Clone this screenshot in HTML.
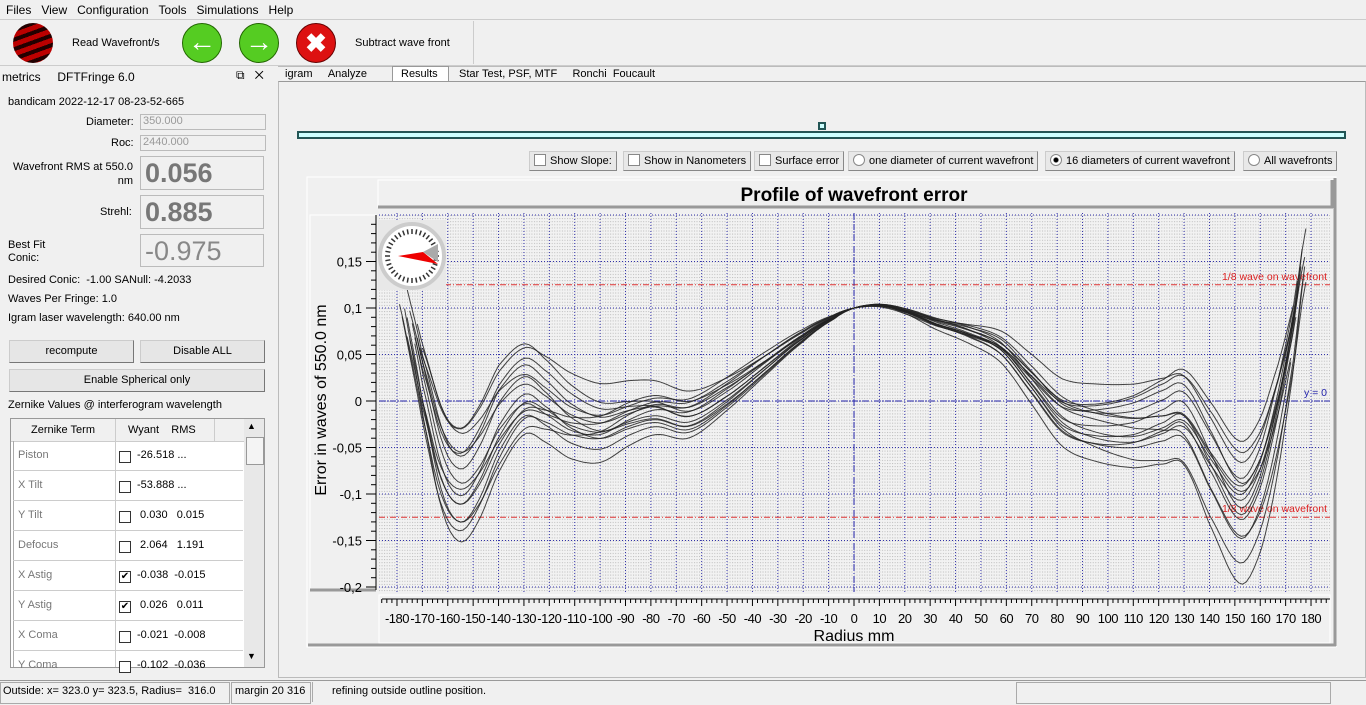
<!DOCTYPE html>
<html><head><meta charset="utf-8"><style>
body{margin:0;width:1366px;height:705px;background:#f0f0f0;font-family:"Liberation Sans",sans-serif;font-size:12px;color:#000;position:relative;overflow:hidden}
.a{position:absolute;white-space:nowrap}
.fld{position:absolute;border:1px solid #bbb;background:#f0f0f0;color:#999}
.big{position:absolute;border:1px solid #bbb;color:#777;font-weight:bold;font-size:27px;padding-left:4px;line-height:32px}
.btn{position:absolute;background:#e6e6e6;border:1px solid #ccc;border-right-color:#777;border-bottom-color:#777;text-align:center;line-height:21px}
.cb{position:absolute;background:#e8e8e8;border:1px solid #ccc;border-right-color:#888;border-bottom-color:#888;font-size:11px;line-height:18px;height:18px;padding:0 4px}
.cb i{display:inline-block;width:10px;height:10px;border:1px solid #888;background:#fff;vertical-align:-2px;margin-right:4px}
.cb i.r{border-radius:6px}
</style></head><body>
<div class="a" style="left:6px;top:3px">Files&nbsp;&nbsp;&nbsp;View&nbsp;&nbsp;&nbsp;Configuration&nbsp;&nbsp;&nbsp;Tools&nbsp;&nbsp;&nbsp;Simulations&nbsp;&nbsp;&nbsp;Help</div>
<div class="a" style="left:0;top:19px;width:1366px;height:1px;background:#ccc"></div>
<div class="a" style="left:13px;top:23px;width:40px;height:40px;border-radius:50%;background:repeating-linear-gradient(160deg,#b00 0 5px,#200 5px 9px)"></div>
<div class="a" style="left:72px;top:37px;font-size:11px">Read Wavefront/s</div>
<div class="a" style="left:182px;top:23px;width:38px;height:38px;border-radius:50%;background:#5c2;border:1px solid #260;color:#fff;font-size:28px;line-height:36px;text-align:center;font-weight:bold">&#8592;</div>
<div class="a" style="left:239px;top:23px;width:38px;height:38px;border-radius:50%;background:#5c2;border:1px solid #260;color:#fff;font-size:28px;line-height:36px;text-align:center;font-weight:bold">&#8594;</div>
<div class="a" style="left:296px;top:23px;width:38px;height:38px;border-radius:50%;background:#d11;border:1px solid #600;color:#fff;font-size:26px;line-height:38px;text-align:center;font-weight:bold">&#10006;</div>
<div class="a" style="left:355px;top:37px;font-size:11px">Subtract wave front</div>
<div class="a" style="left:473px;top:21px;width:1px;height:43px;background:#ccc"></div>
<div class="a" style="left:0;top:65px;width:1366px;height:1px;background:#ccc"></div>
<div class="a" style="left:2px;top:70px">metrics&nbsp;&nbsp;&nbsp;&nbsp;&nbsp;DFTFringe 6.0</div>
<div class="a" style="left:236px;top:68px">&#10697;&nbsp;&nbsp;&nbsp;&#10005;</div>
<div class="a" style="left:8px;top:96px;font-size:11px">bandicam 2022-12-17 08-23-52-665</div>
<div class="a" style="left:86px;top:116px;font-size:11px">Diameter:</div><div class="fld" style="left:140px;top:114px;width:122px;height:14px;padding-left:2px;font-size:11px">350.000</div>
<div class="a" style="left:111px;top:137px;font-size:11px">Roc:</div><div class="fld" style="left:140px;top:135px;width:122px;height:14px;padding-left:2px;font-size:11px">2440.000</div>
<div class="a" style="left:10px;top:160px;text-align:right;width:123px;line-height:14px;font-size:11px">Wavefront RMS at 550.0<br>nm</div>
<div class="big" style="left:140px;top:156px;width:118px;height:32px">0.056</div>
<div class="a" style="left:100px;top:206px;font-size:11px">Strehl:</div>
<div class="big" style="left:140px;top:195px;width:118px;height:32px">0.885</div>
<div class="a" style="left:8px;top:239px;line-height:13px;font-size:11px">Best Fit<br>Conic:</div>
<div class="big" style="left:140px;top:234px;width:118px;height:31px;font-weight:normal;color:#888">-0.975</div>
<div class="a" style="left:8px;top:274px;font-size:11px">Desired Conic:&nbsp; -1.00 SANull: -4.2033</div>
<div class="a" style="left:8px;top:293px;font-size:11px">Waves Per Fringe: 1.0</div>
<div class="a" style="left:8px;top:312px;font-size:11px">Igram laser wavelength: 640.00 nm</div>
<div class="btn" style="left:9px;top:340px;width:123px;height:21px;font-size:11px">recompute</div>
<div class="btn" style="left:140px;top:340px;width:123px;height:21px;font-size:11px">Disable ALL</div>
<div class="btn" style="left:9px;top:369px;width:254px;height:21px;font-size:11px">Enable Spherical only</div>
<div class="a" style="left:8px;top:399px;font-size:11px">Zernike Values @ interferogram wavelength</div>
<div class="a" style="left:10px;top:418px;width:253px;height:248px;background:#fff;border:1px solid #999;overflow:hidden">
 <div class="a" style="left:0;top:0;width:233px;height:22px;background:#f0f0f0;border-bottom:1px solid #ccc"></div>
 <div class="a" style="left:20px;top:5px;font-size:11px">Zernike Term</div>
 <div class="a" style="left:117px;top:5px;font-size:11px">Wyant&nbsp;&nbsp;&nbsp; RMS</div>
 <div class="a" style="left:104px;top:0;width:1px;height:250px;background:#ccc"></div>
 <div class="a" style="left:203px;top:0;width:1px;height:22px;background:#ccc"></div>
 <div class="a" style="left:2px;top:22px;width:1px;height:230px;background:#aaa"></div>
 <div class="a" style="left:233px;top:0;width:20px;height:250px;background:#e8e8e8"></div>
 <div class="a" style="left:236px;top:2px;font-size:9px">&#9650;</div>
 <div class="a" style="left:235px;top:18px;width:16px;height:26px;background:#f4f4f4;border:1px solid #999"></div>
 <div class="a" style="left:236px;top:232px;font-size:9px">&#9660;</div>
</div>
<div id="zt"></div>
<div class="a" style="left:278px;top:66px;width:1088px;height:1px;background:#bbb"></div>
<div class="a" style="left:282px;top:68px;font-size:11px">&nbsp;igram&nbsp;&nbsp;&nbsp;&nbsp;&nbsp;Analyze</div>
<div class="a" style="left:392px;top:66px;width:55px;height:15px;background:#fff;border:1px solid #999;border-bottom:none"></div>
<div class="a" style="left:401px;top:68px;font-size:11px">Results</div>
<div class="a" style="left:459px;top:68px;font-size:11px">Star Test, PSF, MTF&nbsp;&nbsp;&nbsp;&nbsp;&nbsp;Ronchi&nbsp; Foucault</div>
<div class="a" style="left:278px;top:81px;width:1086px;height:595px;border:1px solid #bbb;border-top-color:#999"></div>
<div class="a" style="left:297px;top:131px;width:1045px;height:4px;background:#cff;border:2px solid #255"></div>
<div class="a" style="left:818px;top:122px;width:4px;height:4px;background:#cff;border:2px solid #255"></div>
<div class="cb" style="left:529px;top:151px"><i></i>Show Slope:</div>
<div class="cb" style="left:623px;top:151px"><i></i>Show in Nanometers</div>
<div class="cb" style="left:754px;top:151px"><i></i>Surface error</div>
<div class="cb" style="left:848px;top:151px"><i class="r"></i>one diameter of current wavefront</div>
<div class="cb" style="left:1045px;top:151px"><i class="r" style="background:radial-gradient(#000 2px,#fff 3px)"></i>16 diameters of current wavefront</div>
<div class="cb" style="left:1243px;top:151px"><i class="r"></i>All wavefronts</div>
<div class="a" style="left:0;top:680px;width:1366px;height:1px;background:#999"></div>
<div class="a" style="left:0;top:682px;width:228px;height:20px;border:1px solid #aaa"></div>
<div class="a" style="left:3px;top:685px;font-size:11px">Outside: x= 323.0 y= 323.5, Radius=&nbsp; 316.0</div>
<div class="a" style="left:231px;top:682px;width:78px;height:20px;border:1px solid #aaa"></div>
<div class="a" style="left:235px;top:685px;font-size:11px">margin 20 316</div>
<div class="a" style="left:312px;top:682px;width:700px;height:20px;border-left:1px solid #aaa"></div>
<div class="a" style="left:332px;top:685px;font-size:11px">refining outside outline position.</div>
<div class="a" style="left:1016px;top:682px;width:313px;height:20px;border:1px solid #aaa"></div>
<svg id="ch" class="a" style="left:0;top:0" width="1366" height="705" xmlns="http://www.w3.org/2000/svg"></svg>
<script>
var zt=[["Piston","-26.518 ...",0],["X Tilt","-53.888 ...",0],["Y Tilt"," 0.030   0.015",0],["Defocus"," 2.064   1.191",0],["X Astig","-0.038  -0.015",1],["Y Astig"," 0.026   0.011",1],["X Coma","-0.021  -0.008",0],["Y Coma","-0.102  -0.036",0]];
var h='';zt.forEach(function(r,i){var y=449+i*30;
h+='<div class="a" style="left:18px;top:'+y+'px;color:#777;font-size:11px">'+r[0]+'</div>';
h+='<div class="a" style="left:119px;top:'+(y+2)+'px;width:10px;height:10px;border:1px solid #333;background:#fff;font-size:10px;line-height:10px;text-align:center">'+(r[2]?'&#10004;':'')+'</div>';
h+='<div class="a" style="left:137px;top:'+y+'px;white-space:pre;font-size:11px">'+r[1]+'</div>';
if(i<7)h+='<div class="a" style="left:13px;top:'+(y+21)+'px;width:230px;height:1px;background:#ccc"></div>';});
document.getElementById('zt').innerHTML=h;
var s='';
function R(x,y,w,h,f,st){s+='<rect x="'+x+'" y="'+y+'" width="'+w+'" height="'+h+'" fill="'+f+'"'+(st?' '+st:'')+'/>';}
function L(x1,y1,x2,y2,c,st){s+='<line x1="'+x1+'" y1="'+y1+'" x2="'+x2+'" y2="'+y2+'" stroke="'+c+'" '+(st||'')+'/>';}
function T(x,y,t,st){s+='<text x="'+x+'" y="'+y+'" '+st+'>'+t+'</text>';}
R(307,177,1029,470,'#f0f0f0','stroke="#fff"');
L(308,645,1336,645,'#999','stroke-width="3"');L(1335,178,1335,646,'#999','stroke-width="3"');
R(378,180,955,27,'#f0f0f0','stroke="#fff"');L(378,207,1333,207,'#999','stroke-width="3"');L(1332,180,1332,208,'#999','stroke-width="3"');
T(854,201,'Profile of wavefront error','text-anchor="middle" font-size="19" font-weight="bold" font-family="Liberation Sans"');
R(310,215,66,375,'#f0f0f0','stroke="#fff"');L(310,590,376,590,'#999','stroke-width="3"');
R(379,213,951,379,'#f2f2f2');
s+='<defs><pattern id="p" width="2.54" height="3.1" patternUnits="userSpaceOnUse" x="379" y="215"><rect width="1" height="1" fill="#bbb"/></pattern></defs>';
R(379,213,951,379,'url(#p)');
var X=function(r){return 854+r*2.539},Y=function(v){return 401-v*930};
for(var r=-180;r<=180;r+=10){var x=X(r);if(x>379&&x<1330)L(x,213,x,592,'#33a','stroke-dasharray="1 2" stroke-width="1"');}
for(var v=-0.2;v<=0.201;v+=0.05){var y=Y(v);L(379,y,1330,y,'#33a','stroke-dasharray="1 2"');}
L(379,Y(0.125),1330,Y(0.125),'#d33','stroke-dasharray="6 2 1 2"');
L(379,Y(-0.125),1330,Y(-0.125),'#d33','stroke-dasharray="6 2 1 2"');
L(379,401,1330,401,'#22a','stroke-dasharray="6 2 1 2"');L(854,213,854,592,'#22a','stroke-dasharray="6 2 1 2"');
T(1327,280,'1/8 wave on wavefront','text-anchor="end" fill="#d22" font-size="10.5" font-family="Liberation Sans"');
T(1327,512,'1/8 wave on wavefront','text-anchor="end" fill="#d22" font-size="10.5" font-family="Liberation Sans"');
T(1327,396,'y = 0','text-anchor="end" fill="#22a" font-size="10.5" font-family="Liberation Sans"');
L(376,215,376,590,'#000');
for(var i=-20;i<=19;i++){var y=Y(i/100);L(i%5==0?366:371,y,376,y,'#000');}
[[0.15,'0,15'],[0.1,'0,1'],[0.05,'0,05'],[0,'0'],[-0.05,'-0,05'],[-0.1,'-0,1'],[-0.15,'-0,15'],[-0.2,'-0,2']].forEach(function(a){T(362,Y(a[0])+5,a[1],'text-anchor="end" font-size="13" font-family="Liberation Sans"');});
T(326,400,'Error in waves of  550.0 nm','text-anchor="middle" font-size="16" font-family="Liberation Sans" transform="rotate(-90 326 400)"');
R(379,595,951,48,'#f0f0f0','stroke="#fff"');
L(382,599,1330,599,'#000');
for(var r=-186;r<=188;r+=2){var x=X(r);if(x<381||x>1329)continue;L(x,599,x,r%10==0?606:603,'#000');}
for(var r=-180;r<=180;r+=10){T(X(r),623,r,'text-anchor="middle" font-size="13" font-family="Liberation Sans" letter-spacing="-0.5"');}
T(854,641,'Radius mm','text-anchor="middle" font-size="16" font-family="Liberation Sans"');
var B=[[-180,0.14],[-175,0.09],[-170,0.03],[-162,-0.05],[-155,-0.075],[-148,-0.055],[-140,-0.01],[-130,0.02],[-122,0.01],[-112,-0.01],[-100,-0.02],[-88,-0.01],[-78,-0.005],[-65,-0.012],[-50,0.01],[-35,0.04],[-20,0.07],[-8,0.09],[0,0.1],[10,0.103],[20,0.097],[32,0.085],[45,0.075],[58,0.06],[70,0.025],[82,-0.01],[95,-0.02],[110,-0.02],[122,-0.01],[130,-0.005],[140,-0.05],[152,-0.1],[160,-0.07],[167,0.0],[173,0.08],[178,0.17]];
function base(r){for(var i=0;i<B.length-1;i++){if(r<=B[i+1][0]){var p0=B[Math.max(i-1,0)],p1=B[i],p2=B[i+1],p3=B[Math.min(i+2,B.length-1)];var t=(r-p1[0])/(p2[0]-p1[0]);var t2=t*t,t3=t2*t;return 0.5*((2*p1[1])+(-p0[1]+p2[1])*t+(2*p0[1]-5*p1[1]+4*p2[1]-p3[1])*t2+(-p0[1]+3*p1[1]-3*p2[1]+p3[1])*t3);}}return B[B.length-1][1];}
for(var k=0;k<16;k++){
 var sc=0.8+0.4*((k*7)%16)/15, ph=k*0.39, am=0.02*Math.sin(k*1.7), off=-0.055+0.085*((k*11)%16)/15, offR=-0.055+0.09*((k*5+3)%16)/15;
 var limL=170+((k*3)%10), limR=172+((k*5)%8), d='';
 for(var r=-limL;r<=limR;r+=1.5){var e=Math.min(1,Math.abs(r)/140);
  var o=r<0?off:offR;
  var v=0.1+(base(r)-0.1)*sc+am*e*Math.sin(r/25+ph)+o*e*e*(Math.abs(r)>165?1-(Math.abs(r)-165)/25:1);
  v=Math.max(-0.21,Math.min(0.205,v));
  d+=(d?'L':'M')+X(r).toFixed(1)+' '+Y(v).toFixed(1);}
 s+='<path d="'+d+'" fill="none" stroke="#222" stroke-width="1" opacity="0.85"/>';}
s+='<rect x="378" y="220" width="68" height="70" fill="#e8e8e8"/><circle cx="412" cy="256" r="32" fill="#fff" stroke="#ccc" stroke-width="4"/>';
for(var a=0;a<360;a+=10){var ra=a*Math.PI/180;s+='<line x1="'+(412+Math.cos(ra)*22)+'" y1="'+(256+Math.sin(ra)*22)+'" x2="'+(412+Math.cos(ra)*27)+'" y2="'+(256+Math.sin(ra)*27)+'" stroke="#333" stroke-width="1.5"/>';}
s+='<polygon points="398,256 438,264 423,252" fill="#e00"/><polygon points="423,252 438,244 438,262" fill="#aaa"/>';
document.getElementById('ch').innerHTML=s;
</script>
</body></html>
